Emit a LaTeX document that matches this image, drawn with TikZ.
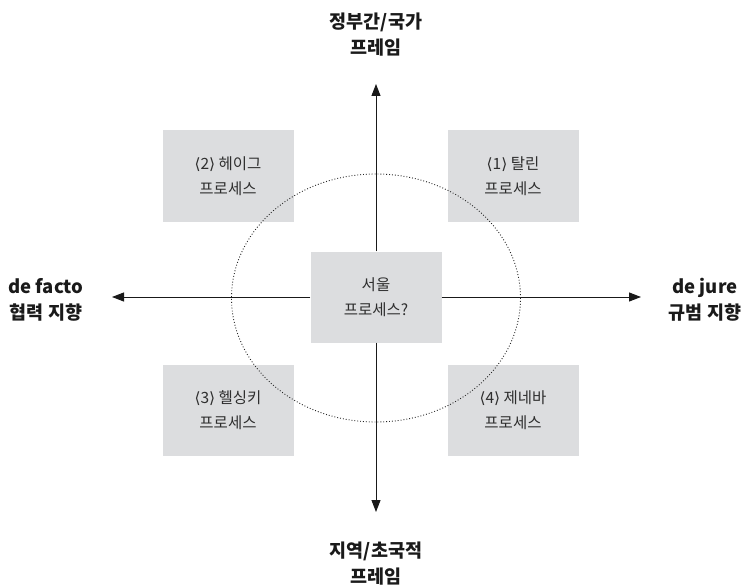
\documentclass[tikz,border=0pt]{standalone}
\usepackage{fontspec}
\setmainfont{Noto Sans CJK KR}
\newfontfamily\djv{DejaVu Sans}
\usetikzlibrary{arrows.meta,shapes.geometric}
\definecolor{boxgray}{HTML}{DCDDDF}
\definecolor{txtgray}{HTML}{2E2E2E}
\definecolor{lbl}{HTML}{1A1A1A}
\newcommand{\la}{{\djv ⟨}}
\newcommand{\ra}{{\djv ⟩}}
\tikzset{
  procbox/.style={fill=boxgray, minimum width=131pt, minimum height=91pt, inner sep=0pt,
    align=center, text=txtgray, font=\fontsize{15.5}{25}\selectfont},
  axislabel/.style={align=center, text=lbl, font=\fontsize{18.5}{26}\selectfont\bfseries},
  axis/.style={line width=1pt, draw=black!90, -{Triangle[length=12pt,width=9pt]}},
  orbit/.style={draw=black!85, line width=0.9pt, dotted}
}
\begin{document}
\begin{tikzpicture}[x=1pt,y=-1pt]
\useasboundingbox (0,0) rectangle (748,586);
\fill[white] (0,0) rectangle (748,586);
% axes end points
\coordinate (tt) at (376,84);
\coordinate (bt) at (376,512);
\coordinate (lt) at (112,297);
\coordinate (rt) at (641,297);
% center box
\node[procbox] (c) at (376,297) {서울\\프로세스?};
\draw[axis] (c.north) -- (tt);
\draw[axis] (c.south) -- (bt);
\draw[axis] (c.west) -- (lt);
\draw[axis] (c.east) -- (rt);
% corner boxes
\node[procbox] (p2) at (228,176) {\la 2\ra\ 헤이그\\프로세스};
\node[procbox] (p1) at (513,176) {\la 1\ra\ 탈린\\프로세스};
\node[procbox] (p3) at (228,410) {\la 3\ra\ 헬싱키\\프로세스};
\node[procbox] (p4) at (513,410) {\la 4\ra\ 제네바\\프로세스};
% dotted ellipse
\node[orbit, ellipse, minimum width=289pt, minimum height=248pt, inner sep=0pt] (orb) at (376,298) {};
% axis labels
\node[axislabel] (top) at (376,35) {정부간/국가\\프레임};
\node[axislabel] (bot) at (376,564) {지역/초국적\\프레임};
\node[axislabel] (left) at (46,300) {de facto\\협력 지향};
\node[axislabel] (right) at (705,300) {de jure\\규범 지향};
\end{tikzpicture}
\end{document}
